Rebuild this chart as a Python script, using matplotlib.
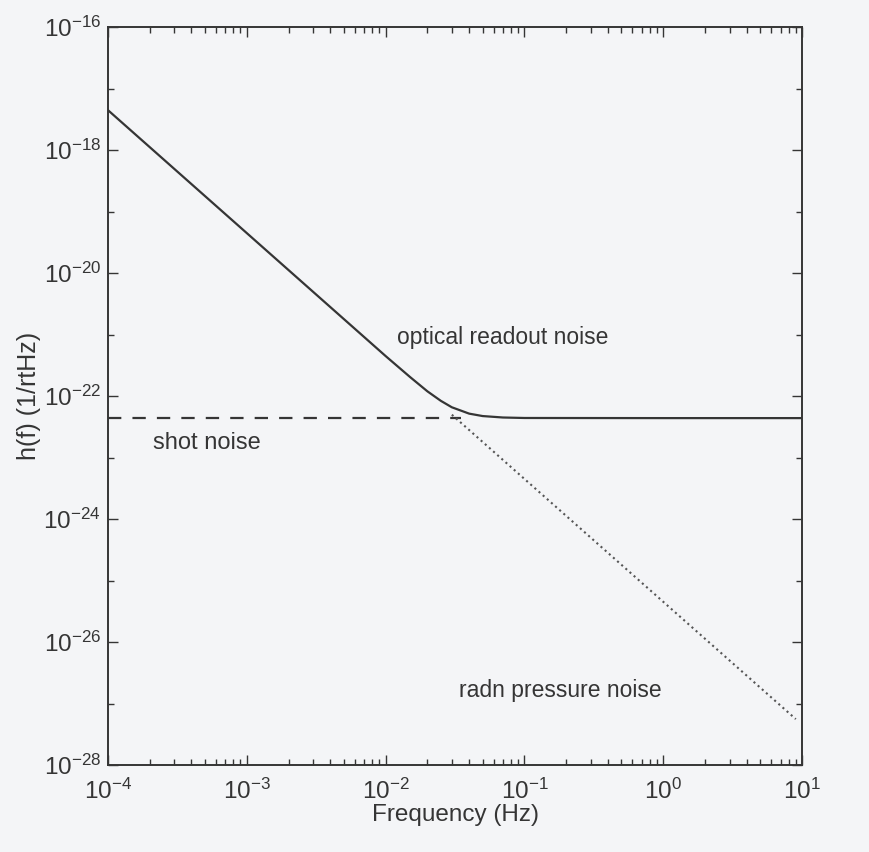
import numpy as np
import matplotlib
matplotlib.use("Agg")
import matplotlib.pyplot as plt
from matplotlib.ticker import LogLocator, FixedLocator, NullFormatter, FuncFormatter

plt.rcParams["font.family"] = ["Liberation Sans", "DejaVu Sans"]
plt.rcParams["mathtext.fontset"] = "custom"
plt.rcParams["mathtext.rm"] = "Liberation Sans"
plt.rcParams["mathtext.it"] = "Liberation Sans"

# === values ===
# optical readout noise (solid): total noise curve
freq_total = [1e-4, 1e-3, 5e-3, 1e-2, 1.5e-2, 2e-2, 2.5e-2, 3e-2, 4e-2,
              5e-2, 7e-2, 1e-1, 1e0, 1e1]
h_total = [4.5e-18, 4.5e-20, 1.8e-21, 4.5e-22, 2.05e-22, 1.2e-22, 8.4e-23,
           6.6e-23, 5.2e-23, 4.75e-23, 4.5e-23, 4.42e-23, 4.4e-23, 4.4e-23]

# shot noise (dashed)
freq_shot = [1e-4, 3.5e-2]
h_shot = [4.4e-23, 4.4e-23]

# radiation pressure noise (dotted)
freq_radn = [3.0e-2, 9.0e0]
h_radn = [5.0e-23, 5.6e-28]

labels = ["optical readout noise", "shot noise", "radn pressure noise"]

# === figure ===
bg = "#f4f5f7"
ink = "#353535"
fig = plt.figure(figsize=(8.7, 8.52), dpi=100, facecolor=bg)
ax = fig.add_axes([0.124, 0.102, 0.798, 0.866])
ax.set_facecolor(bg)

ax.loglog(freq_total, h_total, "-", color=ink, lw=1.6)
ax.loglog(freq_shot, h_shot, "--", color=ink, lw=1.6, dashes=(6, 5))
ax.loglog(freq_radn, h_radn, ":", color="#555555", lw=1.5)

ax.set_xlim(1e-4, 1e1)
ax.set_ylim(1e-28, 1e-16)


def pow10(v, pos):
    e = int(round(np.log10(v)))
    return r"$10^{\mathregular{%d}}$" % e


ax.xaxis.set_major_locator(LogLocator(base=10, numticks=10))
ax.xaxis.set_minor_locator(LogLocator(base=10, subs=np.arange(2, 10), numticks=20))
ax.xaxis.set_major_formatter(FuncFormatter(pow10))
ax.xaxis.set_minor_formatter(NullFormatter())
ax.yaxis.set_major_locator(FixedLocator([10.0 ** e for e in range(-28, -15, 2)]))
ax.yaxis.set_minor_locator(FixedLocator([10.0 ** e for e in range(-27, -16, 2)]))
ax.yaxis.set_major_formatter(FuncFormatter(pow10))
ax.yaxis.set_minor_formatter(NullFormatter())

ax.tick_params(which="both", direction="in", top=True, right=True, colors=ink,
               labelsize=17.5, width=1.0)
ax.tick_params(which="major", length=7)
ax.tick_params(which="minor", length=4)
ax.tick_params(axis="x", pad=10)
ax.tick_params(axis="y", pad=5)
for s in ax.spines.values():
    s.set_color(ink)
    s.set_linewidth(1.4)

ax.set_xlabel("Frequency (Hz)", fontsize=17.5, color=ink, labelpad=0)
ax.set_ylabel("h(f) (1/rtHz)", fontsize=18, color=ink)
ax.yaxis.set_label_coords(-0.097, 0.5)

ax.text(1.2e-2, 9e-22, labels[0], fontsize=16.5, color=ink, va="center", ha="left")
ax.text(2.1e-4, 1.7e-23, labels[1], fontsize=17, color=ink, va="center", ha="left")
ax.text(3.4e-2, 1.66e-27, labels[2], fontsize=16.5, color=ink, va="center", ha="left")

fig.savefig("out.png", dpi=100, facecolor=bg)
